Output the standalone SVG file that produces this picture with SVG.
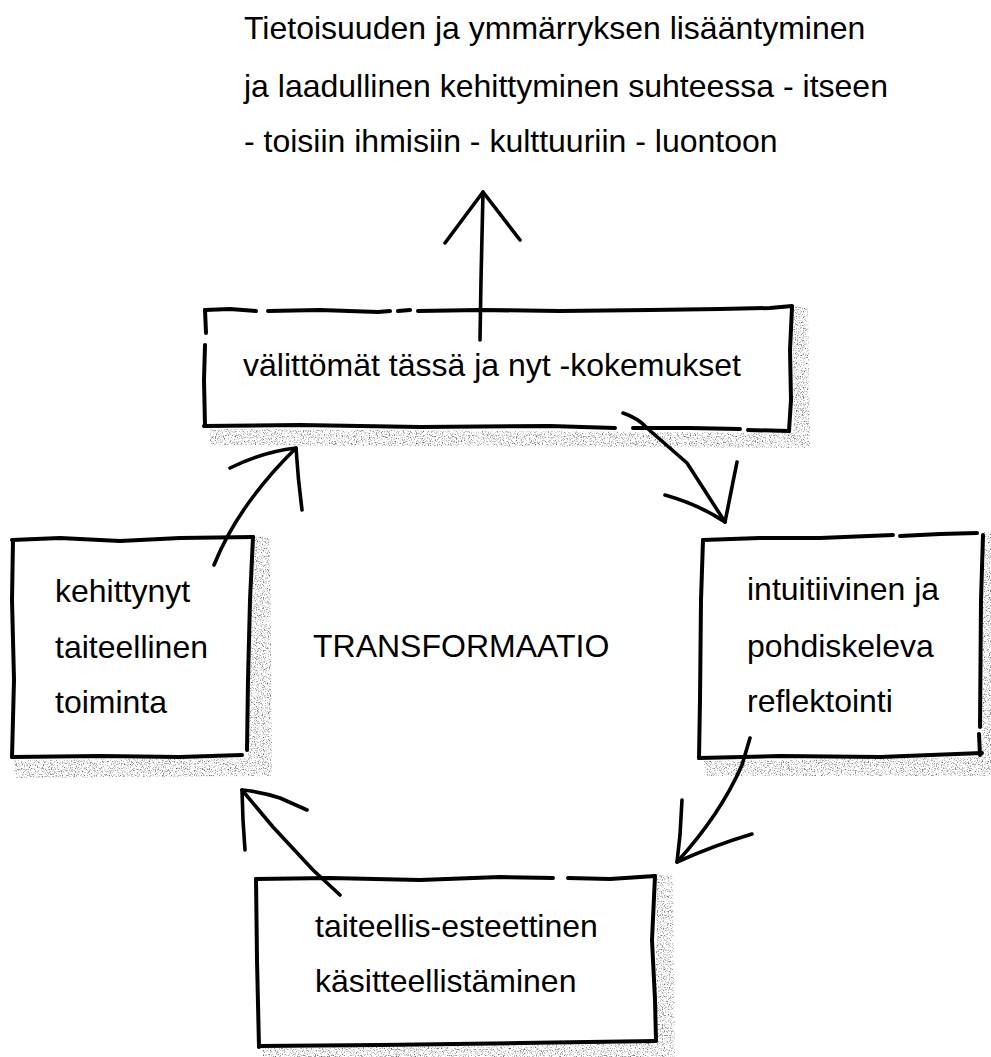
<svg xmlns="http://www.w3.org/2000/svg" width="991" height="1057" viewBox="0 0 991 1057">
<style>
.edge{fill:none;stroke:#000;stroke-width:4;stroke-linecap:round;stroke-linejoin:round}
.arrow{fill:none;stroke:#000;stroke-width:3.6;stroke-linecap:round;stroke-linejoin:round}
.lbl{font-family:"Liberation Sans",Arial,Helvetica,sans-serif;font-size:32px;fill:#000}
.shadow{fill:#666;filter:url(#grain)}
</style>
<defs>
<filter id="grain" x="-5%" y="-5%" width="110%" height="110%">
<feTurbulence type="fractalNoise" baseFrequency="0.85" numOctaves="2" seed="7" result="n"/>
<feColorMatrix in="n" type="matrix" values="0 0 0 0 0  0 0 0 0 0  0 0 0 0 0  3.2 0 0 0 -1.6" result="a"/>
<feComposite in="SourceGraphic" in2="a" operator="in"/>
</filter>
</defs>
<rect width="991" height="1057" fill="#fff"/>

<g id="title">
<text class="lbl" x="244" y="39">Tietoisuuden ja ymmärryksen lisääntyminen</text>
<text class="lbl" x="244" y="97">ja laadullinen kehittyminen suhteessa - itseen</text>
<text class="lbl" x="244" y="152">- toisiin ihmisiin - kulttuuriin - luontoon</text>
</g>

<g id="node-top">
<path class="shadow" d="M210,429 L792,433 L806,436 L806,448 L210,445 Z M792,305 L808,308 L810,448 L794,446 Z"/>
<path class="edge" d="M205,310 L230,309 L256,311 M268,311 L320,310 L378,312 L390,311 M398,311 L410,310 M418,311 L480,310 L560,311 L650,310 L720,309 L770,308 L792,306"/>
<path class="edge" d="M205,310 L206,333 M205,345 L204,380 L205,426"/>
<path class="edge" d="M792,307 L790,350 L791,400 L789,431"/>
<path class="edge" d="M204,426 L300,425 L420,427 L550,426 L615,428 M633,428 L690,428 L740,429 M748,430 L789,431"/>
<text class="lbl" x="243" y="376">välittömät tässä ja nyt -kokemukset</text>
</g>

<g id="node-left">
<path class="shadow" d="M253,535 L270,538 L272,776 L15,778 L14,760 L248,758 Z"/>
<path class="edge" d="M12,540 L60,538 L120,541 L180,538 L253,537"/>
<path class="edge" d="M13,540 L12,600 L14,680 L12,757"/>
<path class="edge" d="M253,537 L250,600 L248,680 L247,750"/>
<path class="edge" d="M12,757 L100,756 L180,757 L242,755"/>
<text class="lbl" x="55" y="602">kehittynyt</text>
<text class="lbl" x="55" y="658">taiteellinen</text>
<text class="lbl" x="55" y="713">toiminta</text>
</g>

<text class="lbl" id="center" x="313" y="657">TRANSFORMAATIO</text>

<g id="node-right">
<path class="shadow" d="M984,532 L991,532 L991,776 L705,776 L704,761 L982,757 Z"/>
<path class="edge" d="M703,540 L760,538 L820,538 L893,535 M900,536 L940,534 L977,533"/>
<path class="edge" d="M703,540 L701,600 L700,700 L699,758"/>
<path class="edge" d="M983,535 L981,600 L980,727 M979,734 L980,755"/>
<path class="edge" d="M699,758 L780,756 L880,757 L982,753"/>
<text class="lbl" x="747" y="600">intuitiivinen ja</text>
<text class="lbl" x="747" y="657">pohdiskeleva</text>
<text class="lbl" x="747" y="712">reflektointi</text>
</g>

<g id="node-bottom">
<path class="shadow" d="M657,873 L673,876 L675,1057 L262,1057 L262,1048 L655,1043 Z"/>
<path class="edge" d="M256,879 L330,878 L420,880 L500,877 L553,878 M568,878 L610,879 L655,876"/>
<path class="edge" d="M256,879 L257,960 L259,1047"/>
<path class="edge" d="M655,876 L652,940 L655,1000 L656,1040"/>
<path class="edge" d="M259,1046 L380,1045 L520,1043 L656,1041"/>
<text class="lbl" x="315" y="937">taiteellis-esteettinen</text>
<text class="lbl" x="315" y="992">käsitteellistäminen</text>
</g>

<g id="connectors">
<path class="arrow" d="M480,340 L481,280 L483,192"/>
<path class="arrow" d="M445,243 L483,192 L520,240"/>
<path class="arrow" d="M214,565 Q238,505 296,448"/>
<path class="arrow" d="M230,468 Q262,452 296,448 Q298,480 302,510"/>
<path class="arrow" d="M623,413 Q638,418 647,428 L687,463 L725,522"/>
<path class="arrow" d="M665,495 Q700,505 725,522 L737,462"/>
<path class="arrow" d="M750,738 L742,765 Q720,815 677,862"/>
<path class="arrow" d="M682,800 L680,835 L677,862 Q715,845 752,834"/>
<path class="arrow" d="M340,895 L313,870 L273,827 L242,790"/>
<path class="arrow" d="M245,850 L243,820 L242,790 Q262,792 280,798 L307,810"/>
</g>
</svg>
